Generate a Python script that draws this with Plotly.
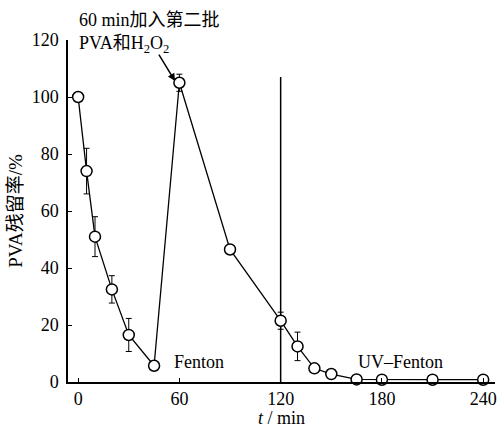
import plotly.graph_objects as go

# Data
t_min = [0, 5, 10, 20, 30, 45, 60, 90, 120, 130, 140, 150, 165, 180, 210, 240]
pva_residual = [100, 74, 51, 32.5, 16.5, 5.7, 105, 46.5, 21.5, 12.5, 4.8, 2.8, 0.9, 0.8, 0.8, 0.8]
pva_error = [0, 8, 7, 4.8, 5.8, 1.5, 3, 1.5, 3, 5, 1, 1, 0.5, 0.5, 0.5, 0.5]

divider_t = [120, 120]
divider_y = [0, 107]

x_ticks = [0, 60, 120, 180, 240]
y_ticks = [0, 20, 40, 60, 80, 100, 120]

FONT = "'Liberation Serif', 'Times New Roman', 'Noto Sans CJK SC', serif"

fig = go.Figure()

fig.add_trace(go.Scatter(
    x=divider_t, y=divider_y, mode="lines",
    line=dict(color="black", width=1.5),
    hoverinfo="skip", showlegend=False, cliponaxis=False,
))

fig.add_trace(go.Scatter(
    x=t_min, y=pva_residual, mode="lines+markers",
    line=dict(color="black", width=1.3),
    marker=dict(symbol="circle", size=11, color="white",
                line=dict(color="black", width=1.5)),
    error_y=dict(type="data", array=pva_error, visible=True,
                 color="black", thickness=1, width=3),
    showlegend=False, cliponaxis=False,
))

fig.update_layout(
    width=501, height=428,
    margin=dict(l=68, r=6, t=40, b=46),
    paper_bgcolor="white", plot_bgcolor="white",
    font=dict(family=FONT, size=18, color="black"),
    xaxis=dict(
        range=[-6, 247], tickvals=x_ticks, ticktext=[str(v) for v in x_ticks],
        showgrid=False, zeroline=False, showline=True, linecolor="black", linewidth=1.5,
        ticks="inside", ticklen=4, tickcolor="black", tickwidth=1, automargin=False,
        tickfont=dict(family=FONT, size=18),
        title=dict(text="<i>t</i> / min", font=dict(family=FONT, size=18), standoff=0),
    ),
    yaxis=dict(
        range=[0, 120], tickvals=y_ticks, ticktext=[str(v) for v in y_ticks],
        showgrid=False, zeroline=False, showline=True, linecolor="black", linewidth=1.5,
        ticks="inside", ticklen=4, tickcolor="black", tickwidth=1, automargin=False,
        ticklabelstandoff=4,
        tickfont=dict(family=FONT, size=18),
        title=dict(text="PVA残留率/%", font=dict(family=FONT, size=19), standoff=4),
    ),
    annotations=[
        dict(x=-0.6, y=1.0585, xref="x", yref="paper", text="60 min加入第二批",
             showarrow=False, xanchor="left", yanchor="middle", font=dict(family=FONT, size=18)),
        dict(x=-0.6, y=0.988, xref="x", yref="paper", text="PVA和H<sub>2</sub>O<sub>2</sub>",
             showarrow=False, xanchor="left", yanchor="middle", font=dict(family=FONT, size=18)),
        dict(x=57.4, y=105.6, xref="x", yref="y", text="", showarrow=True,
             ax=-17, ay=-28, arrowhead=2, arrowsize=1, arrowwidth=1.5, arrowcolor="black"),
        dict(x=71.6, y=7, xref="x", yref="y", text="Fenton",
             showarrow=False, xanchor="center", yanchor="middle", font=dict(family=FONT, size=18)),
        dict(x=191, y=7, xref="x", yref="y", text="UV–Fenton",
             showarrow=False, xanchor="center", yanchor="middle", font=dict(family=FONT, size=18)),
    ],
)

fig.write_html("out.html", config={"displayModeBar": False},
               post_script="document.body.style.margin='0px';")
